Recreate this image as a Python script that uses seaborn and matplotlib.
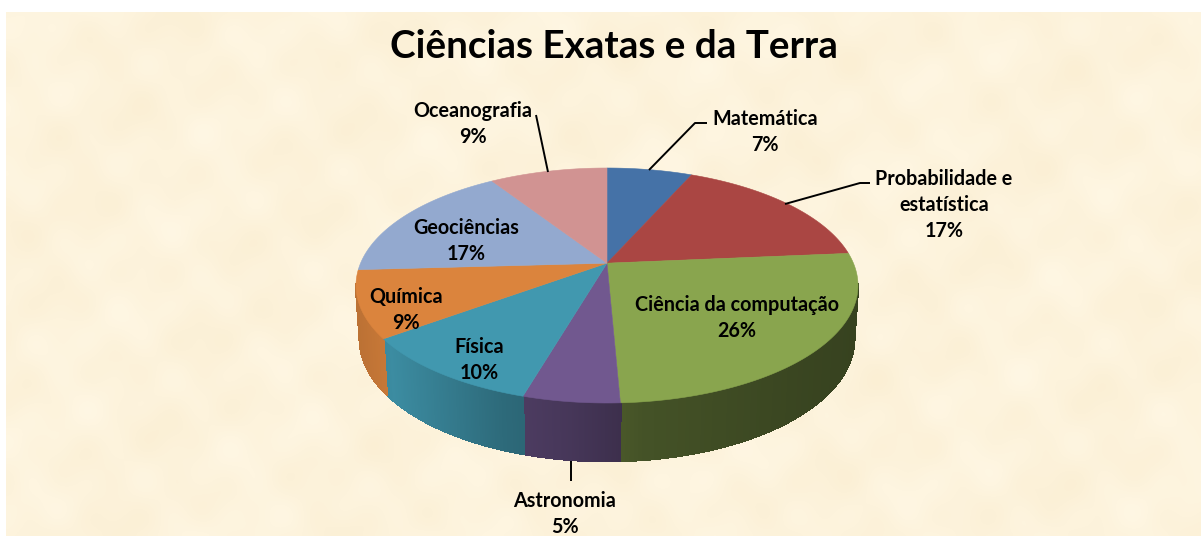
import numpy as np
import matplotlib
matplotlib.use("Agg")
import matplotlib.pyplot as plt
from matplotlib.collections import PolyCollection
import seaborn as sns

title = "Ciências Exatas e da Terra"
areas = ["Matemática", "Probabilidade e\nestatística", "Ciência da computação", "Astronomia",
         "Física", "Química", "Geociências", "Oceanografia"]
shares = [6.6, 17.0, 25.7, 5.2, 10.4, 9.2, 16.8, 9.1]
slice_colors = ["#4572a7", "#aa4643", "#89a54e", "#71588f", "#4198af", "#db843d", "#93a9cf", "#d19392"]
label_pos = [(765, 119), (944, 179), (737, 305), (565, 501), (479, 347), (406, 297), (466, 228), (473, 111)]
leaders = [[(649, 170), (695, 123), (707, 123)],
           [(785, 204), (860, 183), (870, 183)],
           None,
           [(571, 461), (571, 481)],
           None, None, None,
           [(548, 172), (536, 115)]]

sns.set_theme(style="white")
plt.rcParams['font.family'] = ['Lato', 'DejaVu Sans']
palette = sns.color_palette(slice_colors)

fig = plt.figure(figsize=(12.03, 5.36), dpi=100, facecolor="white")
ax = fig.add_axes([0, 0, 1, 1])
ax.set_xlim(0, 1203)
ax.set_ylim(536, 0)
ax.axis("off")

# parchment background, smooth made-up texture
yy, xx = np.mgrid[0:524:4, 0:1195:4]
tex = (np.sin(xx / 37 + yy / 61) + np.sin(xx / 17 - yy / 23 + 1.3) + np.sin(xx / 43 + yy / 13 + 0.4)
       + np.sin(xx / 9 + 2.1) * np.sin(yy / 11))
base = np.array([253, 243, 220]) / 255
bg = base[None, None, :] + tex[:, :, None] * np.array([0.002, 0.004, 0.008])
ax.imshow(np.clip(bg, 0, 1), extent=(6, 1201, 536, 12), interpolation="bicubic", aspect="auto", zorder=0)
ax.set_xlim(0, 1203)
ax.set_ylim(536, 0)

# rim of the tilted disc in screen pixels
cx, cy, rx, ry = 607, 285.5, 251, 117.5
tilt = 0.19


def rim(theta):
    u, v = np.sin(theta), np.cos(theta)
    yn = (v + tilt) / (1 + tilt * v)
    xn = u * np.sqrt(1 - tilt ** 2) / (1 + tilt * v)
    return cx + rx * xn, cy - ry * yn


def lower(x, y):
    return cx + (x - cx) * 0.985, cy + (y - cy) * 1.04 + 53.5


apex = (cx, cy - ry * tilt)
edges = np.cumsum([0] + shares) / sum(shares) * 2 * np.pi

# side wall, only where the rim faces the viewer
shade_x = [357, 390, 500, 570, 640, 800, 858]
shade_k = [0.86, 0.92, 0.70, 0.62, 0.50, 0.42, 0.40]
for i in range(len(shares)):
    th = np.linspace(edges[i], edges[i + 1], 120)
    x, y = rim(th)
    keep = y >= cy - 2
    if keep.sum() < 2:
        continue
    x, y = x[keep], y[keep]
    xb, yb = lower(x, y)
    polys, cols = [], []
    for j in range(len(x) - 1):
        polys.append([(x[j], y[j]), (x[j + 1], y[j + 1]), (xb[j + 1], yb[j + 1]), (xb[j], yb[j])])
        k = np.interp((x[j] + x[j + 1]) / 2, shade_x, shade_k)
        cols.append(tuple(np.array(palette[i]) * k))
    # no antialiasing between strips, it gives moire otherwise
    ax.add_collection(PolyCollection(polys, facecolors=cols, edgecolors=cols, linewidths=1.0,
                                     antialiaseds=False, zorder=2))

# top face
for i in range(len(shares)):
    th = np.linspace(edges[i], edges[i + 1], 120)
    x, y = rim(th)
    ax.fill(np.r_[apex[0], x], np.r_[apex[1], y], color=palette[i], lw=0.4, zorder=3)

for i, name in enumerate(areas):
    lx, ly = label_pos[i]
    for n, line in enumerate(name.split("\n") + [f"{shares[i]:.0f}%"]):
        ax.text(lx, ly + n * 26, line, ha="center", va="center", fontsize=14.2, fontweight="bold",
                color="black", zorder=5)
    if leaders[i] is not None:
        ax.plot(*zip(*leaders[i]), color="black", lw=1.4, zorder=4, solid_capstyle="butt")

ax.text(614, 46, title, ha="center", va="center", fontsize=27.8, fontweight="bold", color="black", zorder=5)

fig.savefig("out.png", dpi=100)
